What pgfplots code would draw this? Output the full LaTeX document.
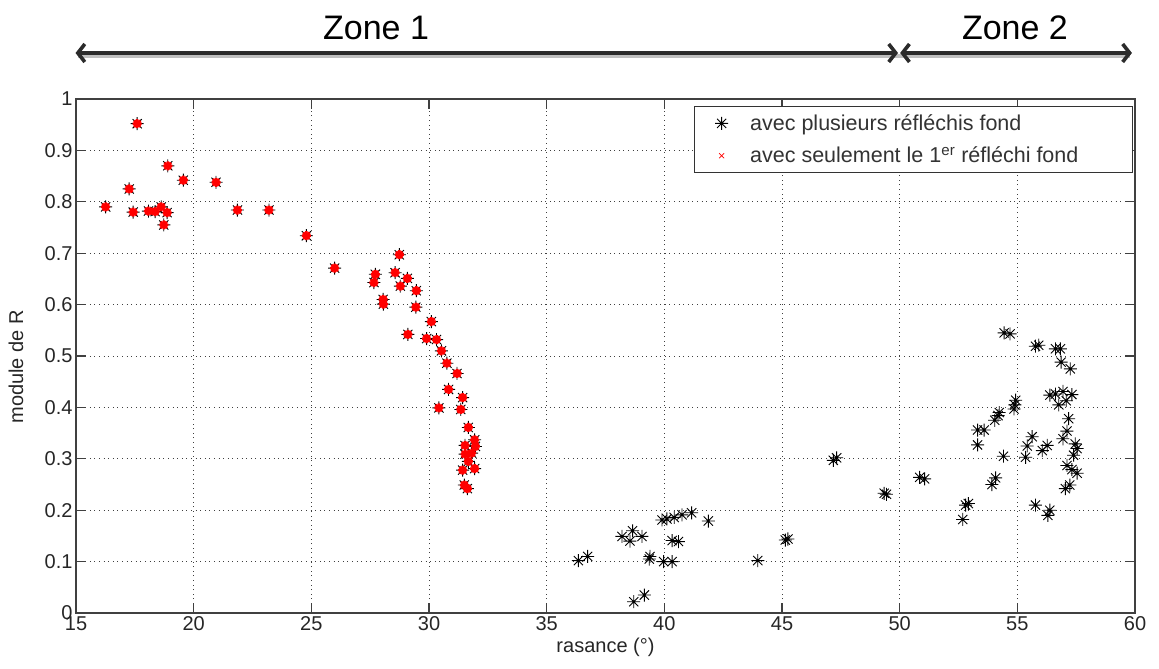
\documentclass[border=0pt]{standalone}
\usepackage{pgfplots}
\pgfplotsset{compat=1.18}
\usepackage{pgfplotstable}
\usepackage{fontspec}
\setmainfont{Liberation Sans}
\usetikzlibrary{arrows.meta}
\definecolor{axgray}{HTML}{404040}
\definecolor{arrowgray}{HTML}{2B2B2B}
\pgfdeclareplotmark{mstar}{%
 \pgfpathmoveto{\pgfqpoint{-\pgfplotmarksize}{0pt}}\pgfpathlineto{\pgfqpoint{\pgfplotmarksize}{0pt}}%
 \pgfpathmoveto{\pgfqpoint{0pt}{-\pgfplotmarksize}}\pgfpathlineto{\pgfqpoint{0pt}{\pgfplotmarksize}}%
 \pgfpathmoveto{\pgfqpoint{-.707\pgfplotmarksize}{-.707\pgfplotmarksize}}\pgfpathlineto{\pgfqpoint{.707\pgfplotmarksize}{.707\pgfplotmarksize}}%
 \pgfpathmoveto{\pgfqpoint{-.707\pgfplotmarksize}{.707\pgfplotmarksize}}\pgfpathlineto{\pgfqpoint{.707\pgfplotmarksize}{-.707\pgfplotmarksize}}%
 \pgfusepathqstroke}
\pgfplotstableread{
x y
16.26 0.790
17.26 0.825
17.60 0.952
17.43 0.780
18.08 0.782
18.36 0.781
18.62 0.790
18.87 0.779
18.73 0.755
18.90 0.870
19.56 0.842
20.95 0.838
21.86 0.784
23.20 0.784
24.79 0.734
25.99 0.671
27.72 0.659
27.66 0.643
28.05 0.610
28.06 0.601
28.74 0.697
28.56 0.662
29.08 0.651
28.78 0.636
29.46 0.627
29.44 0.595
30.10 0.567
29.10 0.542
29.90 0.534
30.32 0.532
30.53 0.510
30.76 0.486
31.19 0.466
30.83 0.435
31.43 0.419
30.42 0.399
31.35 0.396
31.67 0.361
31.94 0.337
31.53 0.326
31.97 0.324
31.81 0.311
31.53 0.309
31.67 0.295
31.94 0.281
31.43 0.278
31.50 0.249
31.63 0.242
}\zoneone
\pgfplotstableread{
x y
36.35 0.102
36.74 0.110
38.20 0.149
38.65 0.160
38.54 0.140
39.05 0.149
39.36 0.105
39.39 0.110
39.97 0.100
40.33 0.100
38.70 0.022
39.15 0.035
39.90 0.181
40.11 0.183
40.42 0.186
40.75 0.191
41.16 0.195
40.33 0.141
40.60 0.139
41.87 0.179
43.97 0.102
45.14 0.142
45.25 0.144
47.18 0.297
47.32 0.302
49.34 0.233
49.44 0.231
50.85 0.264
51.06 0.261
52.68 0.182
52.80 0.210
52.92 0.213
53.31 0.327
53.31 0.356
53.59 0.356
53.92 0.250
54.08 0.263
54.04 0.375
54.18 0.384
54.23 0.390
54.41 0.305
54.44 0.545
54.69 0.543
54.86 0.397
54.89 0.405
54.93 0.414
55.35 0.303
55.42 0.325
55.63 0.343
55.77 0.519
55.91 0.521
55.77 0.210
56.06 0.316
56.27 0.326
56.30 0.190
56.38 0.200
56.62 0.514
56.83 0.514
56.86 0.488
57.25 0.475
56.38 0.424
56.62 0.426
56.94 0.431
57.32 0.425
56.76 0.405
57.08 0.413
57.18 0.378
57.11 0.354
56.94 0.339
57.46 0.329
57.54 0.320
57.39 0.307
57.11 0.287
57.32 0.279
57.54 0.272
57.04 0.242
57.23 0.249
}\others
\begin{document}
\begin{tikzpicture}
\begin{axis}[
  scale only axis,
  width=1059pt, height=514pt,
  xmin=15, xmax=60, ymin=0, ymax=1,
  xtick={15,20,...,60},
  ytick={0,0.1,...,1.0},
  /pgf/number format/assume math mode=true,
  /pgf/number format/fixed,
  /pgf/number format/precision=1,
  tick align=inside,
  major tick length=10pt,
  axis line style={axgray, line width=1.2pt},
  every tick/.style={axgray, line width=1.2pt},
  grid=major,
  grid style={black!75, line width=0.8pt, dash pattern=on 0.8pt off 3.8pt},
  ticklabel style={font=\fontsize{20}{24}\selectfont, text=black!85},
  label style={font=\fontsize{20}{24}\selectfont, text=black!85},
  xlabel={rasance (°)},
  ylabel={module de R},
  every axis y label/.style={at={(axis description cs:-0.0567,0.479)}, rotate=90, anchor=center,
    font=\fontsize{20}{24}\selectfont, text=black!85},
  clip=false,
  legend cell align=left,
  legend style={at={(rel axis cs:0.998,0.986)}, anchor=north east,
    draw=black!80, line width=1pt, font=\fontsize{21.5}{25}\selectfont,
    text=black!80, row sep=11pt, inner ysep=6pt, inner xsep=21pt,
    /tikz/every odd column/.append style={column sep=20pt}},
]
\addplot[only marks, mark=mstar, mark size=6.5pt, black, line width=0.9pt] table[x=x,y=y]{\others};
\addlegendentry{avec plusieurs réfléchis fond}
\addplot[only marks, mark=mstar, mark size=6.5pt, black, line width=0.9pt, forget plot] table[x=x,y=y]{\zoneone};
\addplot[only marks, mark=mstar, mark size=4.5pt, red, line width=2.5pt,
  legend image code/.code={\draw[red, line width=0.7pt] (0.3cm-2.5pt,-2.5pt)--(0.3cm+2.5pt,2.5pt) (0.3cm-2.5pt,2.5pt)--(0.3cm+2.5pt,-2.5pt);}] table[x=x,y=y]{\zoneone};
\addlegendentry{avec seulement le 1\textsuperscript{er} réfléchi fond\hspace*{31pt}}
% zone arrows
\draw[black!25, line width=4pt] (axis cs:15.1,1.083) -- (axis cs:59.8,1.083);
\draw[arrowgray, line width=3.6pt, {Straight Barb[length=7pt,width=18pt]}-{Straight Barb[length=7pt,width=18pt]}] (axis cs:14.98,1.0895) -- (axis cs:49.93,1.0895);
\draw[arrowgray, line width=3.6pt, {Straight Barb[length=7pt,width=18pt]}-{Straight Barb[length=7pt,width=18pt]}] (axis cs:50.02,1.0895) -- (axis cs:59.87,1.0895);
\node[font=\fontsize{34}{40}\selectfont, text=black] at (axis cs:27.75,1.138) {Zone 1};
\node[font=\fontsize{34}{40}\selectfont, text=black] at (axis cs:54.9,1.138) {Zone 2};
\coordinate (bbA) at (axis cs:11.77,-0.107);
\coordinate (bbB) at (axis cs:61.02,1.1926);
\end{axis}
\pgfresetboundingbox
\path[use as bounding box] (bbA) rectangle (bbB);
\end{tikzpicture}
\end{document}
